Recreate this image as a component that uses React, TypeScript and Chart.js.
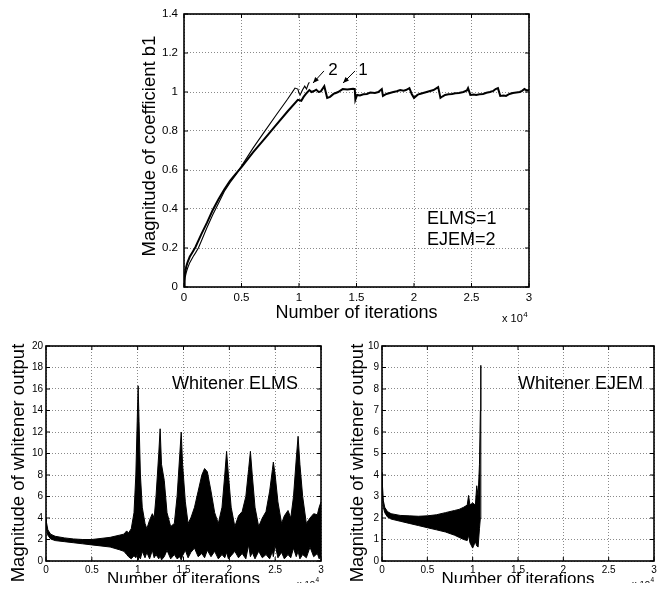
import React, { useEffect, useRef } from 'react';
import { Chart, registerables } from 'chart.js';

Chart.register(...registerables);

const FONT = "'Liberation Sans', Arial, Helvetica, sans-serif";

// ---------------- Top panel: magnitude of coefficient b1 ----------------
const iterTicks = [0, 0.5, 1, 1.5, 2, 2.5, 3]; // x 10^4
const coefTicks = [0, 0.2, 0.4, 0.6, 0.8, 1, 1.2, 1.4];

// curve 1 (ELMS)
const elmsCoef: [number, number][] = [
  [0, 0], [0.005, 0.05], [0.01, 0.075], [0.02, 0.105], [0.03, 0.125], [0.05, 0.155], [0.075, 0.18], [0.1, 0.205],
  [0.15, 0.27], [0.2, 0.33], [0.25, 0.395], [0.3, 0.45], [0.35, 0.5], [0.4, 0.545], [0.45, 0.58], [0.5, 0.615],
  [0.6, 0.69], [0.7, 0.76], [0.8, 0.83], [0.9, 0.9], [0.99, 0.96],
  [1.02, 0.955], [1.04, 0.975], [1.06, 0.99], [1.09, 1.01], [1.11, 1.0], [1.13, 1.005], [1.15, 1.012], [1.17, 1.0], [1.19, 1.003],
  [1.22, 1.03], [1.245, 0.97], [1.27, 0.975], [1.3, 0.99], [1.32, 0.995], [1.34, 1.0], [1.38, 1.015], [1.42, 1.013], [1.47, 1.017],
  [1.485, 1.015], [1.49, 0.96], [1.505, 0.985], [1.53, 0.982], [1.56, 0.988], [1.59, 0.99], [1.62, 0.997], [1.66, 0.995], [1.69, 1.0],
  [1.72, 1.015], [1.73, 0.98], [1.76, 0.99], [1.79, 0.995], [1.82, 1.0], [1.85, 1.004], [1.88, 1.01], [1.91, 1.007], [1.93, 1.01],
  [1.96, 1.02], [1.98, 0.99], [2.0, 0.97], [2.03, 0.985], [2.05, 0.99], [2.08, 0.995], [2.11, 1.0], [2.14, 1.005], [2.17, 1.01],
  [2.21, 1.025], [2.23, 0.97], [2.25, 0.978], [2.27, 0.985], [2.3, 0.988], [2.33, 0.99], [2.36, 0.993], [2.39, 0.995], [2.43, 1.0],
  [2.46, 1.008], [2.47, 1.02], [2.49, 0.985], [2.52, 0.987], [2.54, 0.985], [2.57, 0.988], [2.6, 0.99], [2.63, 0.996], [2.66, 1.0],
  [2.69, 1.006], [2.71, 1.015], [2.73, 1.02], [2.75, 0.98], [2.78, 0.982], [2.8, 0.98], [2.83, 0.99], [2.86, 0.995], [2.89, 0.998],
  [2.92, 1.0], [2.94, 1.006], [2.96, 1.015], [2.98, 1.008], [3.0, 1.01],
];

// curve 2 (EJEM)
const ejemCoef: [number, number][] = [
  [0, 0], [0.005, 0.03], [0.01, 0.05], [0.02, 0.075], [0.03, 0.095], [0.05, 0.125], [0.08, 0.156], [0.1, 0.175],
  [0.125, 0.2], [0.15, 0.235], [0.2, 0.305], [0.25, 0.37], [0.3, 0.43], [0.35, 0.49], [0.4, 0.535], [0.45, 0.575],
  [0.5, 0.62], [0.6, 0.712], [0.7, 0.797], [0.8, 0.881], [0.9, 0.963], [0.965, 1.02], [0.99, 1.015], [1.0, 0.995],
  [1.01, 0.985], [1.03, 1.01], [1.05, 1.03], [1.065, 1.015], [1.08, 1.04], [1.09, 1.05],
];

const curveTags = ['2', '1'];
const curveTagPos: [number, number][] = [[1.296, 1.113], [1.557, 1.113]];
const arrowTail: [number, number][] = [[1.217, 1.108], [1.487, 1.108]];
const arrowHead: [number, number][] = [[1.122, 1.046], [1.383, 1.046]];
const legendLines = ['ELMS=1', 'EJEM=2'];
const legendPos: [number, number][] = [[2.113, 0.349], [2.113, 0.241]];

// ---------------- Bottom left: whitener ELMS ----------------
const elmsOutTicks = [0, 2, 4, 6, 8, 10, 12, 14, 16, 18, 20];
const elmsOutX = [
  0, 0.005, 0.02, 0.05, 0.1, 0.2, 0.3, 0.4, 0.5, 0.6, 0.7, 0.8, 0.85, 0.88, 0.9, 0.93, 0.96, 0.98, 0.995, 1.005,
  1.015, 1.03, 1.05, 1.08, 1.1, 1.13, 1.16, 1.18, 1.2, 1.23, 1.245, 1.26, 1.29, 1.32, 1.36, 1.4, 1.43, 1.46, 1.475, 1.49,
  1.52, 1.55, 1.58, 1.62, 1.66, 1.7, 1.73, 1.76, 1.8, 1.84, 1.88, 1.92, 1.95, 1.97, 1.99, 2.02, 2.06, 2.1, 2.14, 2.18,
  2.21, 2.23, 2.25, 2.28, 2.32, 2.36, 2.4, 2.44, 2.47, 2.48, 2.5, 2.53, 2.57, 2.6, 2.64, 2.67, 2.7, 2.73, 2.75, 2.77,
  2.8, 2.84, 2.88, 2.92, 2.96, 2.98, 3.0,
];
const elmsOutUpper = [
  4.0, 3.6, 2.9, 2.5, 2.3, 2.15, 2.05, 2.0, 2.0, 2.1, 2.2, 2.4, 2.5, 2.8, 2.6, 3.0, 4.5, 8, 13, 16.3,
  13, 8, 5, 3.5, 3.0, 3.8, 4.4, 4.0, 6, 10, 12.3, 9, 7.5, 4.5, 3.2, 3.5, 6, 10, 12.0, 9,
  5.5, 3.5, 4.0, 5.0, 6.5, 8.0, 8.6, 8.3, 6.5, 4.5, 3.5, 5, 8, 10.2, 8, 5, 3.2, 4.2, 4.6, 6,
  8.5, 10.2, 8, 5, 3.2, 4.0, 4.6, 6.5, 8.5, 9.2, 8, 5.5, 3.5, 4.2, 4.7, 4.0, 6, 9.5, 11.6, 9,
  6, 3.5, 4.0, 4.4, 4.3, 5.0, 5.5,
];
const elmsOutLower = [
  3.5, 3.0, 2.4, 2.05, 1.9, 1.8, 1.7, 1.6, 1.5, 1.4, 1.3, 1.05, 0.9, 0.6, 0.4, 0.2, 0.5, 0.3, 0.6, 0.1,
  0.4, 0.2, 0.9, 0.3, 0.8, 0.2, 1.0, 0.3, 0.6, 0.2, 0.5, 0.1, 0.4, 1.0, 0.2, 0.6, 0.2, 0.4, 0.1, 0.5,
  1.0, 0.3, 0.8, 1.2, 0.4, 0.7, 0.3, 1.0, 0.4, 0.9, 0.2, 0.6, 0.3, 0.8, 0.2, 0.5, 0.9, 0.3, 0.7, 0.2,
  1.5, 0.4, 0.8, 0.2, 0.9, 0.3, 0.6, 0.2, 0.9, 0.4, 1.5, 0.3, 0.8, 0.2, 0.6, 0.3, 1.2, 0.4, 0.9, 0.2,
  0.6, 0.3, 1.3, 0.4, 0.7, 0.2, 0.5,
];

// ---------------- Bottom right: whitener EJEM ----------------
const ejemOutTicks = [0, 1, 2, 3, 4, 5, 6, 7, 8, 9, 10];
const ejemOutX = [
  0, 0.005, 0.015, 0.03, 0.06, 0.1, 0.2, 0.3, 0.4, 0.5, 0.6, 0.7, 0.8, 0.85, 0.9, 0.94, 0.955, 0.97, 1.0, 1.03,
  1.045, 1.06, 1.075, 1.085, 1.09,
];
const ejemOutUpper = [
  4.1, 3.5, 2.8, 2.5, 2.3, 2.2, 2.12, 2.1, 2.08, 2.1, 2.15, 2.25, 2.35, 2.4, 2.5, 2.6, 3.05, 2.6, 2.7, 2.6,
  3.5, 3.0, 4.5, 7.0, 9.1,
];
const ejemOutLower = [
  3.8, 3.0, 2.5, 2.25, 2.05, 1.95, 1.85, 1.75, 1.65, 1.55, 1.45, 1.35, 1.2, 1.1, 1.0, 0.95, 1.2, 0.85, 0.6, 0.9,
  0.7, 0.65, 1.5, 2.0, 9.1,
];

const whitenerLabels = ['Whitener ELMS', 'Whitener EJEM'];

// ---------------- helpers ----------------
const pairs = (p: [number, number][]) => p.map(([x, y]) => ({ x, y }));
const zip = (xs: number[], ys: number[]) => xs.map((x, i) => ({ x, y: ys[i] }));

const framePlugin = {
  id: 'frame',
  afterDatasetsDraw(chart: any) {
    const { ctx, chartArea: a, scales } = chart;
    const xs = scales.x;
    const ys = scales.y;
    ctx.save();
    ctx.strokeStyle = '#000';
    ctx.lineWidth = 1;
    const L = 4;
    ctx.beginPath();
    for (const t of xs.ticks) {
      const px = xs.getPixelForValue(t.value);
      ctx.moveTo(px, a.bottom);
      ctx.lineTo(px, a.bottom - L);
      ctx.moveTo(px, a.top);
      ctx.lineTo(px, a.top + L);
    }
    for (const t of ys.ticks) {
      const py = ys.getPixelForValue(t.value);
      ctx.moveTo(a.left, py);
      ctx.lineTo(a.left + L, py);
      ctx.moveTo(a.right, py);
      ctx.lineTo(a.right - L, py);
    }
    ctx.stroke();
    ctx.lineWidth = 1.6;
    ctx.strokeRect(a.left, a.top, a.right - a.left, a.bottom - a.top);
    ctx.restore();
  },
};

const textPlugin = {
  id: 'texts',
  afterDraw(chart: any, _args: any, opts: any) {
    const { ctx, chartArea: a } = chart;
    ctx.save();
    ctx.fillStyle = '#000';
    // x 10^4 exponent
    ctx.textAlign = 'left';
    ctx.textBaseline = 'alphabetic';
    ctx.font = `${opts.size}px ${FONT}`;
    const x0 = a.right + opts.dx;
    const y0 = a.bottom + opts.dy;
    ctx.fillText('x 10', x0, y0);
    const w = ctx.measureText('x 10').width;
    ctx.font = `${opts.supSize}px ${FONT}`;
    ctx.fillText('4', x0 + w + 0.5, y0 - opts.size * 0.5);
    // rotated y-axis title
    ctx.font = `${opts.yTitleSize}px ${FONT}`;
    ctx.textAlign = 'center';
    ctx.textBaseline = 'middle';
    ctx.translate(opts.yTitleX, opts.yTitleY);
    ctx.rotate(-Math.PI / 2);
    ctx.fillText(opts.yTitle, 0, 0);
    ctx.restore();
  },
};

const annotPlugin = {
  id: 'annot',
  afterDatasetsDraw(chart: any) {
    const { ctx, scales } = chart;
    const X = (v: number) => scales.x.getPixelForValue(v);
    const Y = (v: number) => scales.y.getPixelForValue(v);
    ctx.save();
    ctx.fillStyle = '#000';
    ctx.strokeStyle = '#000';
    ctx.font = `17px ${FONT}`;
    ctx.textAlign = 'center';
    ctx.textBaseline = 'middle';
    curveTags.forEach((t, i) => {
      ctx.fillText(t, X(curveTagPos[i][0]), Y(curveTagPos[i][1]));
      const x1 = X(arrowTail[i][0]);
      const y1 = Y(arrowTail[i][1]);
      const x2 = X(arrowHead[i][0]);
      const y2 = Y(arrowHead[i][1]);
      ctx.lineWidth = 1;
      ctx.beginPath();
      ctx.moveTo(x1, y1);
      ctx.lineTo(x2, y2);
      ctx.stroke();
      const ang = Math.atan2(y2 - y1, x2 - x1);
      const hl = 6;
      const hw = 2.5;
      ctx.beginPath();
      ctx.moveTo(x2, y2);
      ctx.lineTo(x2 - hl * Math.cos(ang) + hw * Math.sin(ang), y2 - hl * Math.sin(ang) - hw * Math.cos(ang));
      ctx.lineTo(x2 - hl * Math.cos(ang) - hw * Math.sin(ang), y2 - hl * Math.sin(ang) + hw * Math.cos(ang));
      ctx.closePath();
      ctx.fill();
    });
    ctx.font = `18px ${FONT}`;
    ctx.textAlign = 'left';
    legendLines.forEach((t, i) => {
      ctx.fillText(t, X(legendPos[i][0]), Y(legendPos[i][1]));
    });
    ctx.restore();
  },
};

type PanelSpec = {
  datasets: any[];
  yTicks: number[];
  yMax: number;
  yW: number;
  xH: number;
  padTop: number;
  padRight: number;
  xTitleSize: number;
  xTitlePad: number;
  tickSize: number;
  yTickPad: number;
  xTickPad: number;
  texts: any;
  extra?: any[];
};

function makeConfig(p: PanelSpec): any {
  const fmt = (v: any) => String(Math.round(Number(v) * 100) / 100);
  return {
    type: 'line',
    data: { datasets: p.datasets },
    options: {
      responsive: false,
      animation: false,
      devicePixelRatio: 1,
      layout: { padding: { top: p.padTop, right: p.padRight, left: 0, bottom: 0 } },
      plugins: { legend: { display: false }, tooltip: { enabled: false }, texts: p.texts },
      elements: { point: { radius: 0 }, line: { tension: 0 } },
      scales: {
        x: {
          type: 'linear',
          min: 0,
          max: 3,
          afterFit: (s: any) => {
            s.height = p.xH;
          },
          afterBuildTicks: (s: any) => {
            s.ticks = iterTicks.map((v) => ({ value: v }));
          },
          ticks: {
            callback: fmt,
            font: { size: p.tickSize, family: FONT },
            color: '#000',
            padding: p.xTickPad,
            maxRotation: 0,
            autoSkip: false,
          },
          grid: { color: '#8a8a8a', lineWidth: 1, drawTicks: false },
          border: { display: false, dash: [1, 2] },
          title: {
            display: true,
            text: 'Number of iterations',
            color: '#000',
            font: { size: p.xTitleSize, family: FONT, lineHeight: 1.2 },
            padding: { top: 0, bottom: p.xTitlePad },
          },
        },
        y: {
          type: 'linear',
          min: 0,
          max: p.yMax,
          afterFit: (s: any) => {
            s.width = p.yW;
          },
          afterBuildTicks: (s: any) => {
            s.ticks = p.yTicks.map((v) => ({ value: v }));
          },
          ticks: {
            callback: fmt,
            font: { size: p.tickSize, family: FONT },
            color: '#000',
            padding: p.yTickPad,
            autoSkip: false,
          },
          grid: { color: '#8a8a8a', lineWidth: 1, drawTicks: false },
          border: { display: false, dash: [1, 2] },
          title: { display: false },
        },
      },
    },
    plugins: [framePlugin, textPlugin, ...(p.extra || [])],
  };
}

function Panel({ left, top, width, height, build }: { left: number; top: number; width: number; height: number; build: () => any }) {
  const ref = useRef<HTMLCanvasElement>(null);
  useEffect(() => {
    const chart = new Chart(ref.current as HTMLCanvasElement, build());
    return () => chart.destroy();
  }, []);
  return (
    <canvas
      ref={ref}
      width={width}
      height={height}
      style={{ position: 'absolute', left, top, width, height, display: 'block' }}
    />
  );
}

const buildTop = () =>
  makeConfig({
    datasets: [
      { data: pairs(elmsCoef), borderColor: '#000', borderWidth: 2, pointRadius: 0, fill: false },
      { data: pairs(ejemCoef), borderColor: '#000', borderWidth: 1.1, pointRadius: 0, fill: false },
    ],
    yTicks: coefTicks,
    yMax: 1.4,
    yW: 64,
    xH: 48,
    padTop: 14,
    padRight: 11,
    xTitleSize: 18,
    xTitlePad: 11,
    tickSize: 11.5,
    yTickPad: 6,
    xTickPad: 4,
    texts: {
      size: 11, supSize: 8, dx: -27, dy: 35,
      yTitle: 'Magnitude of coefficient b1', yTitleSize: 18.5, yTitleX: 30, yTitleY: 146,
    },
    extra: [annotPlugin],
  });

const buildElms = () =>
  makeConfig({
    datasets: [
      { data: zip(elmsOutX, elmsOutLower), borderColor: '#000', borderWidth: 1, pointRadius: 0, fill: false },
      { data: zip(elmsOutX, elmsOutUpper), borderColor: '#000', borderWidth: 1, pointRadius: 0, backgroundColor: '#000', fill: '-1' },
    ],
    yTicks: elmsOutTicks,
    yMax: 20,
    yW: 46,
    xH: 30,
    padTop: 11,
    padRight: 14,
    xTitleSize: 17,
    xTitlePad: 1,
    tickSize: 10,
    yTickPad: 3,
    xTickPad: 3,
    texts: {
      size: 9.5, supSize: 6.5, dx: -24, dy: 26,
      yTitle: 'Magnitude of whitener output', yTitleSize: 18.5, yTitleX: 19, yTitleY: 128,
    },
  });

const buildEjem = () =>
  makeConfig({
    datasets: [
      { data: zip(ejemOutX, ejemOutLower), borderColor: '#000', borderWidth: 1, pointRadius: 0, fill: false },
      { data: zip(ejemOutX, ejemOutUpper), borderColor: '#000', borderWidth: 1, pointRadius: 0, backgroundColor: '#000', fill: '-1' },
    ],
    yTicks: ejemOutTicks,
    yMax: 10,
    yW: 47,
    xH: 30,
    padTop: 11,
    padRight: 12,
    xTitleSize: 17,
    xTitlePad: 1,
    tickSize: 10,
    yTickPad: 3,
    xTickPad: 3,
    texts: {
      size: 9.5, supSize: 6.5, dx: -22, dy: 26,
      yTitle: 'Magnitude of whitener output', yTitleSize: 18.5, yTitleX: 23, yTitleY: 128,
    },
  });

export default function App() {
  return (
    <div style={{ position: 'relative', width: 666, height: 591, margin: -8, fontFamily: FONT }}>
      <Panel left={120} top={0} width={420} height={335} build={buildTop} />
      <Panel left={0} top={335} width={335} height={256} build={buildElms} />
      <Panel left={335} top={335} width={331} height={256} build={buildEjem} />
      <div style={{ position: 'absolute', left: 172, top: 373, fontSize: 18, lineHeight: '20px', color: '#000', whiteSpace: 'nowrap' }}>
        {whitenerLabels[0]}
      </div>
      <div style={{ position: 'absolute', left: 518, top: 373, fontSize: 18, lineHeight: '20px', color: '#000', whiteSpace: 'nowrap' }}>
        {whitenerLabels[1]}
      </div>
    </div>
  );
}
